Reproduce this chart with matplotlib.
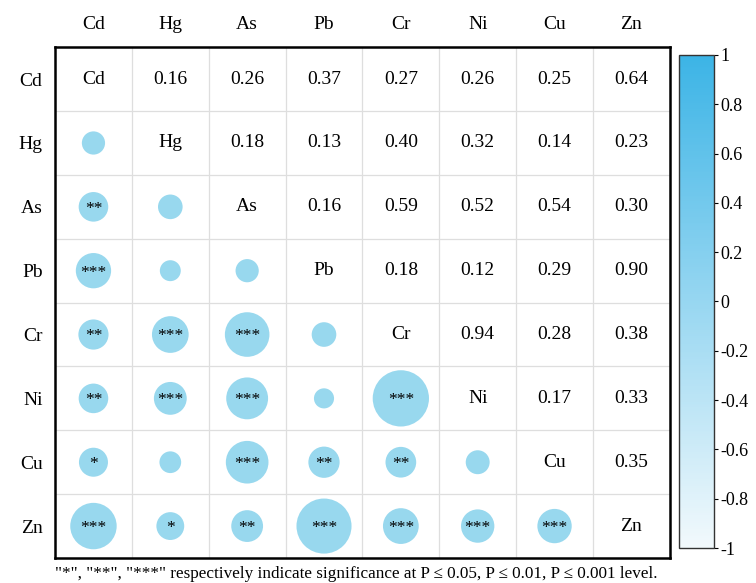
import numpy as np
import matplotlib.pyplot as plt
from matplotlib.colors import LinearSegmentedColormap
from matplotlib.cm import ScalarMappable
from matplotlib.colors import Normalize

plt.rcParams["font.family"] = ["Liberation Serif", "DejaVu Serif"]
plt.rcParams["axes.unicode_minus"] = False

elements = ["Cd", "Hg", "As", "Pb", "Cr", "Ni", "Cu", "Zn"]

# correlation coefficients (upper triangle, row by row)
corr_rows = [
    [0.16, 0.26, 0.37, 0.27, 0.26, 0.25, 0.64],
    [0.18, 0.13, 0.40, 0.32, 0.14, 0.23],
    [0.16, 0.59, 0.52, 0.54, 0.30],
    [0.18, 0.12, 0.29, 0.90],
    [0.94, 0.28, 0.38],
    [0.17, 0.33],
    [0.35],
]

# significance marks for the lower triangle (row i, columns 0..i-1)
sig_rows = [
    [""],
    ["**", ""],
    ["***", "", ""],
    ["**", "***", "***", ""],
    ["**", "***", "***", "", "***"],
    ["*", "", "***", "**", "**", ""],
    ["***", "*", "**", "***", "***", "***", "***"],
]

cb_ticks = [1, 0.8, 0.6, 0.4, 0.2, 0, -0.2, -0.4, -0.6, -0.8, -1]

n = len(elements)
corr = np.eye(n)
for i, row in enumerate(corr_rows):
    for k, v in enumerate(row):
        j = i + 1 + k
        corr[i, j] = v
        corr[j, i] = v

circle_color = "#98d8ee"
cmap = LinearSegmentedColormap.from_list("blu", ["#f2f9fc", "#3cb4e6"])

fig = plt.figure(figsize=(7.56, 5.83), dpi=100)
ax = fig.add_axes([0.0728, 0.0429, 0.8132, 0.8761])

ax.set_xlim(-0.5, n - 0.5)
ax.set_ylim(n - 0.5, -0.5)

for k in range(1, n):
    ax.axhline(k - 0.5, color="#dedede", lw=0.9, zorder=0)
    ax.axvline(k - 0.5, color="#dedede", lw=0.9, zorder=0)

# circles in lower triangle, area ~ |r|
xs, ys, ss = [], [], []
for i in range(n):
    for j in range(i):
        xs.append(j)
        ys.append(i)
        ss.append(1746 * abs(corr[i, j]))
ax.scatter(xs, ys, s=ss, color=circle_color, edgecolors="none", zorder=2)

for i in range(1, n):
    for j in range(i):
        star = sig_rows[i - 1][j]
        if star:
            ax.text(j, i + 0.03, star, ha="center", va="center", fontsize=12.5, zorder=3)

# diagonal names and upper values
for i in range(n):
    ax.text(i, i, elements[i], ha="center", va="center", fontsize=14)
    for j in range(i + 1, n):
        ax.text(j, i, f"{corr[i, j]:.2f}", ha="center", va="center", fontsize=14)

ax.set_xticks(range(n))
ax.set_xticklabels(elements, fontsize=14)
ax.set_yticks(range(n))
ax.set_yticklabels(elements, fontsize=14)
ax.xaxis.tick_top()
ax.tick_params(axis="both", length=0)
ax.tick_params(axis="x", pad=10)
ax.tick_params(axis="y", pad=9)
for sp in ax.spines.values():
    sp.set_linewidth(1.8)
    sp.set_color("black")

# colorbar
cax = fig.add_axes([0.898, 0.060, 0.0463, 0.8457])
sm = ScalarMappable(norm=Normalize(-1, 1), cmap=cmap)
cb = fig.colorbar(sm, cax=cax)
cb.set_ticks(cb_ticks)
cb.set_ticklabels([f"{t:g}" for t in cb_ticks])
cb.ax.tick_params(labelsize=13, length=3, width=0.8, direction="out", pad=1.5)
cb.outline.set_linewidth(1.0)
cb.outline.set_edgecolor("#333333")

fig.text(0.0728, 0.015,
         '"*", "**", "***" respectively indicate significance at P ≤ 0.05, P ≤ 0.01, P ≤ 0.001 level.',
         fontsize=12.3, ha="left", va="center")

fig.savefig("out.png", dpi=100)
